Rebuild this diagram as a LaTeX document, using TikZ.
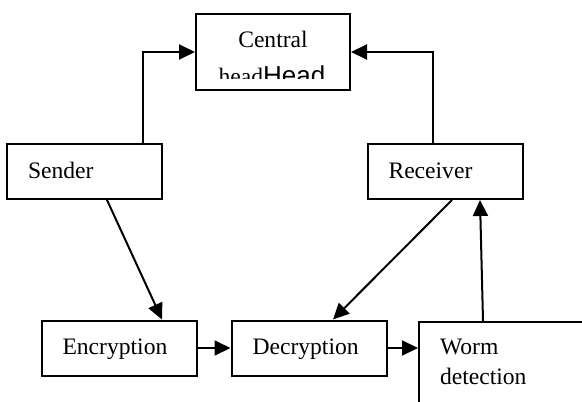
\documentclass[tikz,border=0pt]{standalone}
\usepackage{fontspec}
\setmainfont{Liberation Serif}
\setsansfont{Liberation Sans}
\usetikzlibrary{arrows.meta,positioning,calc}

\begin{document}
\begin{tikzpicture}[x=0.5pt,y=-0.5pt,
    every node/.style={font=\fontsize{11.8pt}{15pt}\selectfont},
    blockbox/.style={draw,line width=1pt,inner xsep=10.5pt,inner ysep=0pt,
      text width=56.5pt,align=left,minimum height=27.5pt,text height=8.5pt,text depth=2pt},
    flow/.style={-{Triangle[length=8pt,width=7.5pt]},line width=1pt}]
  \clip (0,0) rectangle (582,401);
  \node[draw,line width=1pt,anchor=north,inner sep=0pt,minimum width=77pt,
        text height=16.5pt,text depth=21.5pt] (central) at (273,13) {Central};
  \begin{scope}
    \clip (196,0) rectangle (350,79);
    \node[anchor=base,inner sep=0pt] (centralsub) at (272,84)
      {head{\sffamily\fontsize{13pt}{16pt}\selectfont Head}};
  \end{scope}
  \foreach \n/\x/\y/\t in {sender/84.5/171.5/Sender, receiver/445/171.5/Receiver,
      encryption/119/348/Encryption, decryption/309/348/Decryption}
    \node[blockbox] (\n) at (\x,\y) {\t};
  \node[blockbox,anchor=north west,text width=90pt,text height=16pt,text depth=70pt]
    (worm) at (418,321) {Worm\\detection};
  \draw[flow] ([xshift=-10pt]sender.north east) |- (central.west);
  \draw[flow] ([xshift=-6pt]receiver.north) |- (central.east);
  \draw[flow] ([xshift=11.25pt]sender.south) -- ([xshift=21.5pt]encryption.north);
  \draw[flow] ([xshift=3.5pt]receiver.south) -- ([xshift=12pt]decryption.north);
  \draw[flow] ([xshift=32.5pt]worm.north west) -- ([xshift=17.5pt]receiver.south);
  \draw[flow] (encryption) -- (decryption);
  \draw[flow] (decryption) -- (worm.west |- decryption);
\end{tikzpicture}
\end{document}
